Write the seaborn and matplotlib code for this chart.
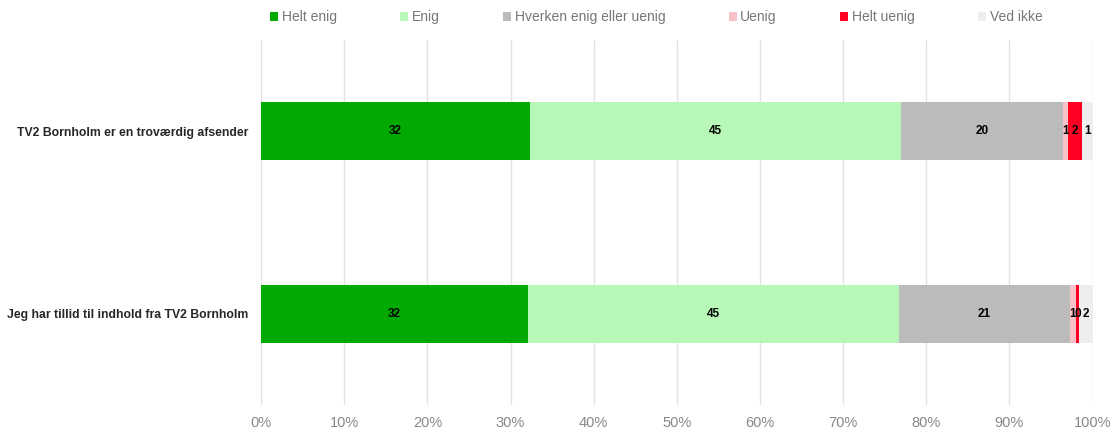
import matplotlib
matplotlib.use("Agg")
import matplotlib.pyplot as plt
import seaborn as sns
import pandas as pd
import numpy as np
from matplotlib.patches import Patch

categories = ["TV2 Bornholm er en troværdig afsender",
              "Jeg har tillid til indhold fra TV2 Bornholm"]
series = ["Helt enig", "Enig", "Hverken enig eller uenig", "Uenig", "Helt uenig", "Ved ikke"]
helt_enig = [32.3, 32.1]
enig = [44.6, 44.6]
hverken = [19.6, 20.6]
uenig = [0.6, 0.7]
helt_uenig = [1.6, 0.4]
ved_ikke = [1.3, 1.6]
colors = ["#00aa00", "#b7f7b7", "#bbbbbb", "#f7c3c8", "#ff0022", "#eeeeee"]
xticks = [0, 10, 20, 30, 40, 50, 60, 70, 80, 90, 100]

values = [helt_enig, enig, hverken, uenig, helt_uenig, ved_ikke]
cum = np.cumsum(np.array(values), axis=0)

sns.set_style("white")
plt.rcParams['font.family'] = ['Liberation Sans', 'DejaVu Sans']

fig = plt.figure(figsize=(11.16, 4.30), dpi=100)
ax = fig.add_axes([0.234, 0.058, 0.745, 0.849])

for i in range(len(series) - 1, -1, -1):
    df = pd.DataFrame({"cat": categories, "end": cum[i]})
    sns.barplot(data=df, y="cat", x="end", color=colors[i], orient="h",
                width=0.32, ax=ax, saturation=1, zorder=3, linewidth=0)

for i in range(len(series)):
    for j in range(len(categories)):
        v = values[i][j]
        c = cum[i][j] - v / 2
        ax.text(c, j, f"{round(v):d}", ha="center", va="center",
                fontsize=8.5, fontweight="bold", color="black", zorder=5)

ax.set_xlim(0, 100)
ax.set_ylim(1.5, -0.5)
ax.set_xticks(xticks)
ax.set_xticklabels([f"{t}%" for t in xticks], color="#888888", fontsize=10.5)
ax.tick_params(axis="x", length=0, pad=8)
ax.tick_params(axis="y", length=0, pad=9)
for lab in ax.get_yticklabels():
    lab.set_fontweight("bold")
    lab.set_fontsize(8.8)
ax.set_xlabel("")
ax.set_ylabel("")
ax.grid(axis="x", color="#e3e3e3", linewidth=1, zorder=0)
ax.grid(axis="y", visible=False)
ax.set_axisbelow(True)
for s in ax.spines.values():
    s.set_visible(False)

handles = [Patch(facecolor=colors[i], edgecolor="none", label=series[i]) for i in range(len(series))]
fig.legend(handles=handles, loc="upper center", bbox_to_anchor=(0.588, 1.005), ncol=6,
           frameon=False, handlelength=0.6, handleheight=0.6, handletextpad=0.25,
           columnspacing=4.55, fontsize=10, labelcolor="#777777")

fig.savefig("out.png", dpi=100)
